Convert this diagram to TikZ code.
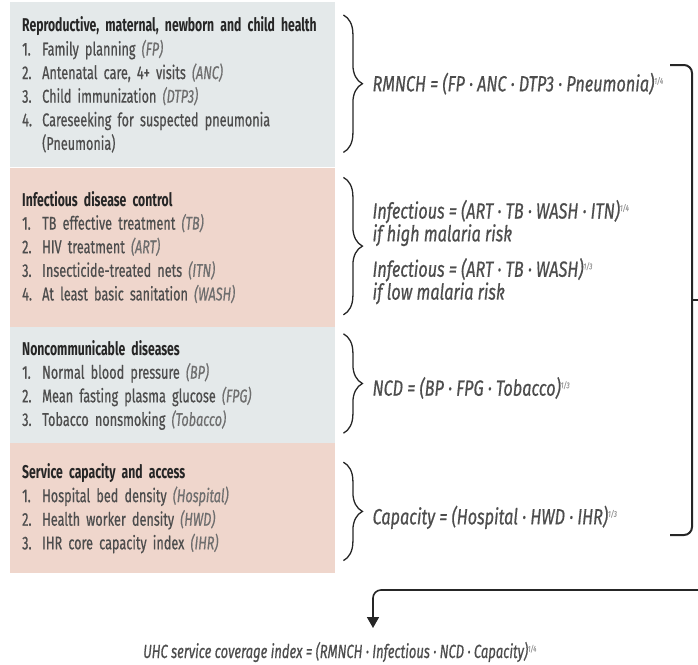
\documentclass[tikz,border=0pt]{standalone}
\usepackage{fontspec}
\setmainfont{Fira Sans}[FakeStretch=0.685, UprightFeatures={FakeBold=0.6}, ItalicFeatures={FakeBold=0.6}, BoldFeatures={FakeStretch=0.66}]
\newfontfamily\frmfont{Fira Sans}[FakeStretch=0.74, UprightFeatures={FakeBold=0.6}, ItalicFeatures={FakeBold=0.6}]
\usetikzlibrary{positioning,arrows.meta,calc,decorations.pathreplacing}

\definecolor{boxgrey}{HTML}{E4E9EA}
\definecolor{boxpink}{HTML}{EFD6CC}
\definecolor{txtdark}{HTML}{262626}
\definecolor{txtgrey}{HTML}{4D4D4D}
\definecolor{abbrgrey}{HTML}{6E6E6E}

\newcommand{\itm}[1]{\makebox[20pt][l]{#1.}}
\newcommand{\abv}[1]{{\itshape\color{abbrgrey}(#1)}}
\newcommand{\hd}[1]{{\bfseries\color{txtdark}#1}}
\newcommand{\pw}[2]{\textsuperscript{\color{abbrgrey!70}\fontsize{8.5}{8.5}\selectfont#1/#2}}

\begin{document}
\begin{tikzpicture}[x=1pt, y=-1pt, font=\fontsize{18.5}{23.6}\selectfont,
  grp/.style={anchor=north west, inner xsep=12pt, inner ysep=0pt, text width=301pt, minimum height=#1, align=left, text=txtgrey},
  frm/.style={anchor=west, align=left, text=txtgrey, font=\frmfont\fontsize{22}{20}\selectfont\itshape, inner sep=0pt},
  brc/.style={decorate, decoration={brace, amplitude=19pt, aspect=0.5}, draw=black!85, line width=1.3pt},
  arr/.style={-{Triangle[length=11pt, width=12pt]}, draw=black!85, line width=1.6pt, rounded corners=8pt}]
\useasboundingbox (0,0) rectangle (698,664);
% indicator groups
\node[grp=165pt, fill=boxgrey] (rmnch) at (10,2) {\hd{Reproductive, maternal, newborn and child health}\\
  \itm{1}Family planning \abv{FP}\\
  \itm{2}Antenatal care, 4+ visits \abv{ANC}\\
  \itm{3}Child immunization \abv{DTP3}\\
  \itm{4}Careseeking for suspected pneumonia\\
  \hspace*{20pt}(Pneumonia)};
\node[grp=159pt, fill=boxpink, below=0pt of rmnch] (inf) {\hd{Infectious disease control}\\
  \itm{1}TB effective treatment \abv{TB}\\
  \itm{2}HIV treatment \abv{ART}\\
  \itm{3}Insecticide-treated nets \abv{ITN}\\
  \itm{4}At least basic sanitation \abv{WASH}};
\node[grp=116pt, fill=boxgrey, below=0pt of inf] (ncd) {\hd{Noncommunicable diseases}\\
  \itm{1}Normal blood pressure \abv{BP}\\
  \itm{2}Mean fasting plasma glucose \abv{FPG}\\
  \itm{3}Tobacco nonsmoking \abv{Tobacco}};
\node[grp=130pt, fill=boxpink, below=0pt of ncd] (cap) {\hd{Service capacity and access}\\
  \itm{1}Hospital bed density \abv{Hospital}\\
  \itm{2}Health worker density \abv{HWD}\\
  \itm{3}IHR core capacity index \abv{IHR}};
% braces
\draw[brc] ($(rmnch.north east)+(8,13)$) -- ($(rmnch.south east)+(8,-15)$);
\draw[brc] ($(inf.north east)+(8,10)$) -- ($(inf.south east)+(8,-12)$);
\draw[brc] ($(ncd.north east)+(8,7)$) -- ($(ncd.south east)+(8,-10)$);
\draw[brc] ($(cap.north east)+(8,19)$) -- ($(cap.south east)+(8,-13)$);
% sub-indices
\node[frm] (frmrmnch) at ($(rmnch.east)+(37,-1)$) {RMNCH = (FP · ANC · DTP3 · Pneumonia)\pw{1}{4}};
\node[frm] (frminf) at ($(inf.east)+(37,5)$) {Infectious = (ART · TB · WASH · ITN)\pw{1}{4}\\if high malaria risk\\[11pt]
  Infectious = (ART · TB · WASH)\pw{1}{3}\\if low malaria risk};
\node[frm] (frmncd) at ($(ncd.east)+(37,3)$) {NCD = (BP · FPG · Tobacco)\pw{1}{3}};
\node[frm] (frmcap) at ($(cap.east)+(37,9)$) {Capacity = (Hospital · HWD · IHR)\pw{1}{3}};
% combined index
\node[frm, anchor=center, font=\fontsize{19}{18}\selectfont\itshape] (uhc) at (340,652) {UHC service coverage index = (RMNCH · Infectious · NCD · Capacity)\pw{1}{4}};
\coordinate (jn) at (692,300);
\coordinate (bend) at (373,590);
\coordinate (tip) at (373,628);
\draw[draw=black!85, line width=2pt, rounded corners=8pt] (670,65) -| (692,535) -- (670,535);
\draw[arr] (jn) -- ++(40,0) |- (bend) -- (tip);
\end{tikzpicture}
\end{document}
